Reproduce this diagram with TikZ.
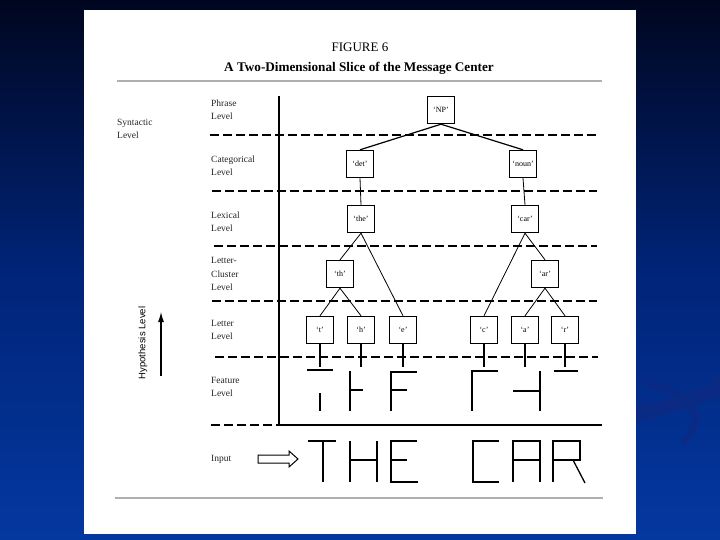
\documentclass[tikz,border=0pt]{standalone}
\usepackage{fontspec}
\setmainfont{Liberation Serif}
\setsansfont{Liberation Sans}
\usetikzlibrary{arrows.meta}
\definecolor{bgtop}{RGB}{0,6,32}
\definecolor{bgmid}{RGB}{0,36,120}
\definecolor{bgbot}{RGB}{4,56,160}
\definecolor{swoosh}{RGB}{12,42,130}
\definecolor{rulegray}{RGB}{175,175,175}
\tikzset{
  box/.style={draw, line width=1.4pt, minimum width=27pt, minimum height=27pt, inner sep=0pt, fill=white, font=\fontsize{8}{8}\selectfont},
  lvl/.style={anchor=west, align=left, inner sep=0pt, font=\fontsize{9.5}{13.5}\selectfont, text=black!85},
  sepline/.style={line width=1.3pt, dash pattern=on 9pt off 4pt},
  edge/.style={line width=0.8pt},
  thickedge/.style={line width=1.2pt},
  axis/.style={line width=1.8pt},
  feat/.style={line width=1.2pt},
  bigletter/.style={line width=1.3pt},
}
\begin{document}
\begin{tikzpicture}[x=1pt,y=-1pt]
\useasboundingbox (0,0) rectangle (720,540);
% background
\shade[top color=bgtop, bottom color=bgbot, middle color=bgmid] (0,0) rectangle (720,540);
\fill[swoosh, opacity=0.8] (636,405) .. controls (690,395) and (712,385) .. (720,372) -- (720,395) .. controls (700,405) and (670,412) .. (636,422) -- cycle;
\draw[swoosh, line width=7pt, opacity=0.7] (645,382) .. controls (695,392) and (708,420) .. (682,442);
% page
\fill[white] (84,10) rectangle (636,534);
% title
\node[font=\fontsize{13}{14}\selectfont] (fig) at (360,47) {FIGURE 6};
\node[font=\bfseries\fontsize{13.2}{14}\selectfont] (title) at (359,68) {A Two-Dimensional Slice of the Message Center};
\draw[rulegray, line width=1.2pt] (117,81) -- (602,81);
\draw[rulegray, line width=1.5pt] (115,498) -- (603,498);
% level labels
\node[lvl] (phr) at (211,110) {Phrase\\Level};
\node[lvl] (syn) at (117,129) {Syntactic\\Level};
\node[lvl] (cat) at (211,166) {Categorical\\Level};
\node[lvl] (lex) at (211,222) {Lexical\\Level};
\node[lvl] (clu) at (211,274) {Letter-\\Cluster\\Level};
\node[lvl] (let) at (211,330) {Letter\\Level};
\node[lvl] (fea) at (211,387) {Feature\\Level};
\node[lvl] (inp) at (211,459) {Input};
% hypothesis level
\node[rotate=90, font=\sffamily\fontsize{9.5}{10}\selectfont, inner sep=0pt] (hyp) at (143,343) {Hypothesis Level};
\coordinate (ha) at (161,376);
\coordinate (hb) at (161,312);
\draw[line width=1.1pt, -{Latex[length=10pt,width=6pt]}] (ha) -- (hb);
% dashed level separators
\draw[sepline] (210,135) -- (596,135);
\draw[sepline] (212,191) -- (597,191);
\draw[sepline] (214,246) -- (597,246);
\draw[sepline] (212,301) -- (597,301);
\draw[sepline] (215,357) -- (598,357);
\draw[sepline] (211,425) -- (279,425);
% axes
\draw[axis] (279,96) -- (279,425) -- (602,425);
% nodes
\node[box] (np) at (441,110) {`NP'};
\node[box] (det) at (360,164) {`det'};
\node[box] (noun) at (523,164) {`noun'};
\node[box] (the) at (361,219) {`the'};
\node[box] (car) at (525,219) {`car'};
\node[box] (th) at (340,274) {`th'};
\node[box] (ar) at (545,274) {`ar'};
\node[box] (t) at (320,330) {`t'};
\node[box] (h) at (361,330) {`h'};
\node[box] (e) at (403,330) {`e'};
\node[box] (c) at (484,330) {`c'};
\node[box] (a) at (525,330) {`a'};
\node[box] (r) at (565,330) {`r'};
% connectors
\draw[thickedge] (np.south) -- (det.north);
\draw[thickedge] (np.south) -- (noun.north);
\draw[edge] (det.south) -- (the.north);
\draw[edge] (noun.south) -- (car.north);
\draw[edge] (the.south) -- (th.north);
\draw[edge] (the.south) -- (e.north);
\draw[edge] (car.south) -- (c.north);
\draw[edge] (car.south) -- (ar.north);
\draw[edge] (th.south) -- (t.north);
\draw[edge] (th.south) -- (h.north);
\draw[edge] (ar.south) -- (a.north);
\draw[edge] (ar.south) -- (r.north);
% stems from letter boxes
\foreach \n in {t,h,e,c,a,r} \draw[feat] (\n.south) -- ++(0,23);
% feature strokes
\draw[feat] (307,370) -- (333,370);
\draw[feat] (320,393) -- (320,411);
\draw[feat] (350,371) -- (350,411);
\draw[feat] (350,390) -- (363,390);
\draw[feat] (391,411) -- (391,372) -- (417,372);
\draw[feat] (391,390) -- (407,390);
\draw[feat] (472,411) -- (472,371) -- (498,371);
\draw[feat] (513,391) -- (540,391);
\draw[feat] (540,371) -- (540,411);
\draw[feat] (554,371) -- (578,371);
% input arrow
\draw[line width=1pt, fill=white] (258,455) -- (289,455) -- (289,451) -- (298,459) -- (289,467) -- (289,463) -- (258,463) -- cycle;
% THE CAR
\draw[bigletter] (308,441) -- (336,441);
\draw[bigletter] (323,441) -- (323,482);
\draw[bigletter] (350,441) -- (350,482);
\draw[bigletter] (377,441) -- (377,482);
\draw[bigletter] (350,460) -- (377,460);
\draw[bigletter] (417,441) -- (391,441) -- (391,482) -- (418,482);
\draw[bigletter] (391,460) -- (407,460);
\draw[bigletter] (499,441) -- (473,441) -- (473,482) -- (499,482);
\draw[bigletter] (513,482) -- (513,441) -- (540,441) -- (540,482);
\draw[bigletter] (513,460) -- (540,460);
\draw[bigletter] (553,482) -- (553,441) -- (580,441) -- (580,460) -- (553,460);
\draw[bigletter] (573,460) -- (585,483);
\end{tikzpicture}
\end{document}
